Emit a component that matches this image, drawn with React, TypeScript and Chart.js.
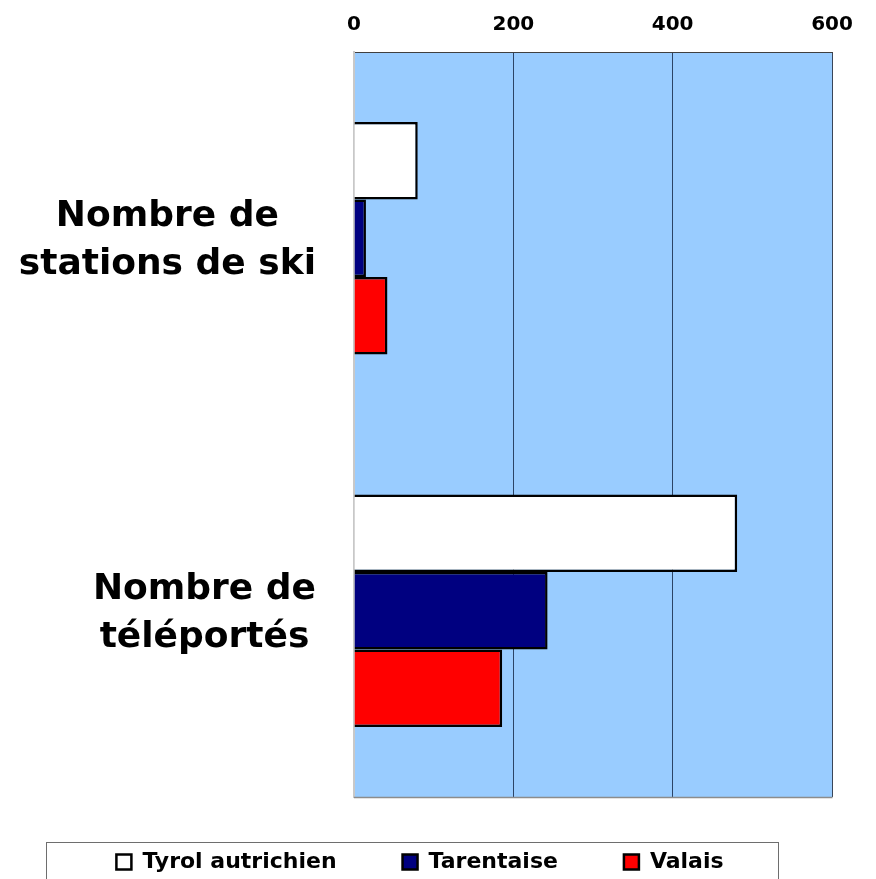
import React, { useEffect, useRef } from "react";
import { Chart, registerables } from "chart.js";

Chart.register(...registerables);

const categories: string[][] = [
  ["Nombre de", "stations de ski"],
  ["Nombre de", "téléportés"],
];
const seriesNames: string[] = ["Tyrol autrichien", "Tarentaise", "Valais"];
const tyrolValues: number[] = [80, 481];
const tarentaiseValues: number[] = [15, 243];
const valaisValues: number[] = [42, 186];
const xTickValues: number[] = [0, 200, 400, 600];

const FONT = "'DejaVu Sans', Verdana, sans-serif";

const decorPlugin = {
  id: "decor",
  afterLayout(chart: any) {
    const l = chart.legend;
    if (l) {
      l.top -= 12;
      l.bottom -= 12;
    }
  },
  beforeDraw(chart: any) {
    const { ctx, chartArea: a } = chart;
    ctx.save();
    ctx.fillStyle = "#99CCFF";
    ctx.fillRect(a.left, a.top, a.right - a.left, a.bottom - a.top);
    ctx.restore();
  },
  afterDraw(chart: any) {
    const { ctx, chartArea: a } = chart;
    const yScale = chart.scales.y;
    ctx.save();
    // bottom edge of plot area
    ctx.strokeStyle = "#8c8c8c";
    ctx.lineWidth = 1.5;
    ctx.beginPath();
    ctx.moveTo(a.left, a.bottom + 0.5);
    ctx.lineTo(a.right + 0.5, a.bottom + 0.5);
    ctx.stroke();

    // category labels: block right-aligned, lines centred in block
    ctx.font = `bold 36px ${FONT}`;
    ctx.fillStyle = "#000";
    ctx.textAlign = "center";
    ctx.textBaseline = "alphabetic";
    const labels = chart.data.labels as string[][];
    const rightEdge = a.left - 38;
    labels.forEach((lines: string[], i: number) => {
      const cy = yScale.getPixelForTick(i);
      const widest = Math.max(...lines.map((l) => ctx.measureText(l).width));
      const cx = rightEdge - widest / 2;
      lines.forEach((line, j) => {
        const base = cy + (j - (lines.length - 1) / 2) * 48 + 12;
        ctx.fillText(line, cx, base);
      });
    });

    // legend frame
    ctx.strokeStyle = "#6e6e6e";
    ctx.lineWidth = 1;
    ctx.strokeRect(46.5, 842.5, 732, 80);
    ctx.restore();
  },
};

export default function App() {
  const canvasRef = useRef<HTMLCanvasElement | null>(null);

  useEffect(() => {
    if (!canvasRef.current) return;
    const chart = new Chart(canvasRef.current, {
      type: "bar",
      data: {
        labels: categories,
        datasets: [
          {
            label: seriesNames[0],
            data: tyrolValues,
            backgroundColor: "#FFFFFF",
            borderColor: "#000000",
            borderWidth: 2.5,
          },
          {
            label: seriesNames[1],
            data: tarentaiseValues,
            backgroundColor: "#000080",
            borderColor: "#000000",
            borderWidth: 2.5,
          },
          {
            label: seriesNames[2],
            data: valaisValues,
            backgroundColor: "#FF0000",
            borderColor: "#000000",
            borderWidth: 2.5,
          },
        ],
      },
      options: {
        indexAxis: "y",
        animation: false,
        responsive: false,
        events: [],
        layout: { padding: { top: -2, left: 8, right: 44, bottom: -16 } },
        datasets: { bar: { categoryPercentage: 0.624, barPercentage: 1 } },
        scales: {
          x: {
            position: "top",
            min: 0,
            max: 600,
            afterBuildTicks: (s: any) => {
              s.ticks = xTickValues.map((v) => ({ value: v }));
            },
            ticks: {
              font: { family: FONT, size: 20, weight: "bold" },
              color: "#000",
              padding: 15,
            },
            grid: {
              drawTicks: false,
              lineWidth: 1,
              color: (c: any) => {
                const v = c.tick ? c.tick.value : -1;
                if (v === 0) return "rgba(0,0,0,0)";
                if (v === 600) return "#3a4658";
                return "#2c4466";
              },
            },
            border: { display: true, color: "#404040", width: 1 },
          },
          y: {
            ticks: { display: false },
            grid: { display: false },
            border: { display: true, color: "#c8c8c8", width: 2 },
            afterFit: (s: any) => {
              s.width = 346;
            },
          },
        },
        plugins: {
          legend: {
            position: "bottom",
            labels: {
              boxWidth: 15,
              boxHeight: 15,
              padding: 66,
              color: "#000",
              font: { family: FONT, size: 22, weight: "bold" },
            },
          },
          tooltip: { enabled: false },
        },
      } as any,
      plugins: [decorPlugin],
    });
    return () => chart.destroy();
  }, []);

  return (
    <div style={{ position: "fixed", left: 0, top: 0, width: 876, height: 879, background: "#fff" }}>
      <canvas ref={canvasRef} width={876} height={879} style={{ width: 876, height: 879, display: "block" }} />
    </div>
  );
}
